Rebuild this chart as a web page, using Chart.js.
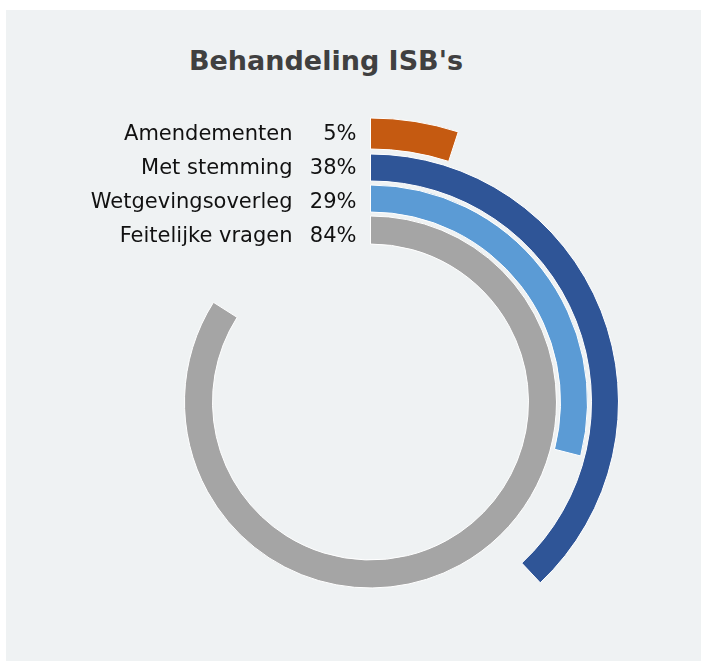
<!DOCTYPE html>
<html>
<head>
<meta charset="utf-8">
<script src="https://cdn.jsdelivr.net/npm/chart.js@4"></script>
<style>
  html, body { margin: 0; padding: 0; background: #fff; }
  #wrap { position: absolute; left: 6px; top: 10px; width: 695px; height: 651px; background: #EFF2F3; }
  #title { position: absolute; left: 0; top: 35px; width: 640px; text-align: center;
           font: bold 27px "DejaVu Sans", Verdana, sans-serif; color: #404040; }
  canvas { position: absolute; left: 0; top: 0; }
</style>
</head>
<body>
<div id="wrap">
  <div id="title">Behandeling ISB's</div>
  <canvas id="myChart" width="695" height="651"></canvas>
</div>
<script>
const categories = ['Amendementen', 'Met stemming', 'Wetgevingsoverleg', 'Feitelijke vragen'];
const values = [5, 38, 29, 84];
const colors = ['#C55A11', '#2F5597', '#5B9BD5', '#A5A5A5'];
const ringWeights = [31, 27, 27, 28];
const gapWeights = [5, 4, 4];

// rings, outermost first, with thin spacer rings between them
const datasets = [];
categories.forEach((name, i) => {
  datasets.push({
    label: name,
    data: [values[i], 100 - values[i]],
    backgroundColor: [colors[i], 'rgba(0,0,0,0)'],
    borderColor: ['#ffffff', 'rgba(0,0,0,0)'],
    borderWidth: [1, 0],
    weight: ringWeights[i]
  });
  if (i < gapWeights.length) {
    datasets.push({ label: '', data: [100], backgroundColor: ['rgba(0,0,0,0)'], borderWidth: 0, weight: gapWeights[i] });
  }
});

// category + percentage text to the left of the ring starts
const ringLabels = {
  id: 'ringLabels',
  afterDatasetsDraw(chart) {
    const ctx = chart.ctx;
    const first = chart.getDatasetMeta(0).data[0];
    const y0 = first.y - (first.outerRadius + first.innerRadius) / 2 + 6;
    ctx.save();
    ctx.font = '21px "DejaVu Sans", Verdana, sans-serif';
    ctx.fillStyle = '#111111';
    ctx.textAlign = 'right';
    ctx.textBaseline = 'alphabetic';
    categories.forEach((name, i) => {
      const y = y0 + i * 34.2;
      ctx.fillText(name, first.x - 78, y);
      ctx.fillText(values[i] + '%', first.x - 14, y);
    });
    ctx.restore();
  }
};

const mychart = document.getElementById('myChart').getContext('2d');
new Chart(mychart, {
  type: 'doughnut',
  data: { labels: ['value', 'rest'], datasets: datasets },
  options: {
    responsive: false,
    animation: false,
    radius: 284,
    cutout: '55.63%',
    clip: false,
    layout: { padding: { left: 105, right: 71, top: 133, bottom: 0 } },
    plugins: { legend: { display: false }, tooltip: { enabled: false } }
  },
  plugins: [ringLabels]
});
</script>
</body>
</html>
